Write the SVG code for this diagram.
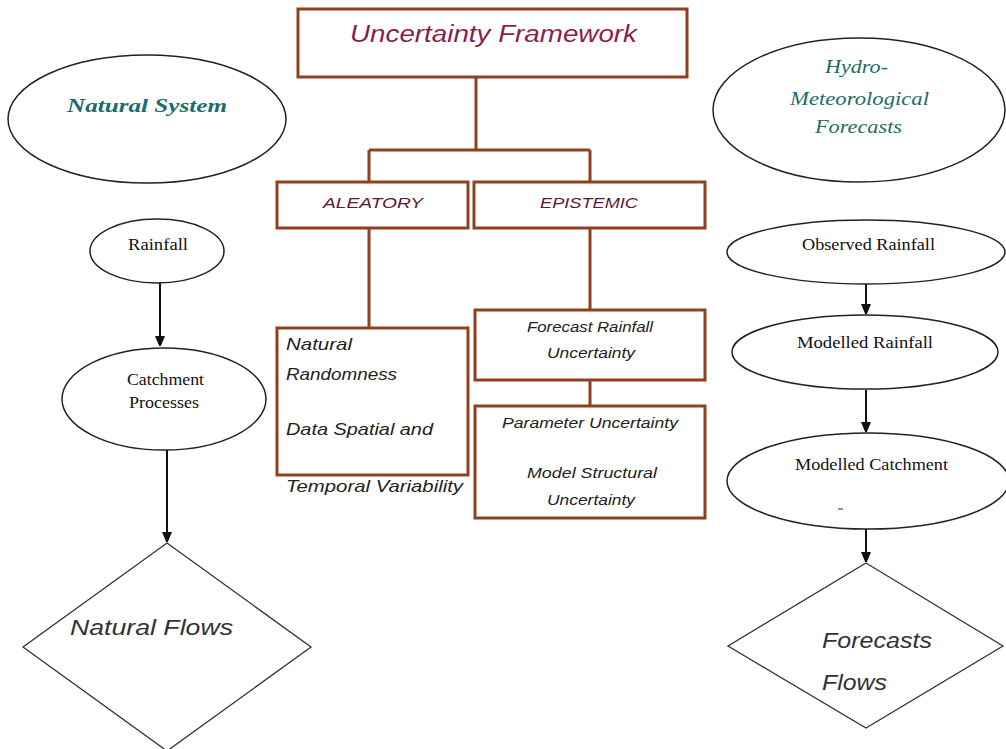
<svg xmlns="http://www.w3.org/2000/svg" width="1006" height="749" viewBox="0 0 1006 749">
<defs>
<style>
.box{fill:#fff;stroke:#8e4020;stroke-width:3}
.bl{fill:none;stroke:#8e4020;stroke-width:3}
.el{fill:#fff;stroke:#222;stroke-width:1.5}
.dm{fill:#fff;stroke:#333;stroke-width:1.3}
.ar{fill:none;stroke:#111;stroke-width:2}
.sans{font-family:"Liberation Sans","DejaVu Sans",sans-serif;font-style:italic}
.ser{font-family:"Liberation Serif","DejaVu Serif",serif;fill:#111}
.teal{font-family:"Liberation Serif","DejaVu Serif",serif;font-style:italic;fill:#1d6b6b}
</style>
<marker id="ah" viewBox="0 0 10 12" refX="10" refY="5" markerWidth="10" markerHeight="12" orient="auto" markerUnits="userSpaceOnUse">
<path d="M0,0 L12,5 L0,10 z" fill="#111"/>
</marker>
</defs>
<rect width="1006" height="749" fill="#fff"/>
<g id="connectors">
<path class="bl" d="M476,77 V150 M369,150 H590 M369,150 V182 M590,150 V182 M369,228 V328 M590,228 V310 M590,380 V406"/>
<path class="ar" d="M160,283 V346" marker-end="url(#ah)"/>
<path class="ar" d="M167,450 V542" marker-end="url(#ah)"/>
<path class="ar" d="M866,283 V314" marker-end="url(#ah)"/>
<path class="ar" d="M866,390 V432" marker-end="url(#ah)"/>
<path class="ar" d="M866,528 V562" marker-end="url(#ah)"/>
</g>
<g id="uncertainty-framework">
<rect class="box" x="298" y="9" width="389" height="68"/>
<text class="sans" x="350" y="42" font-size="23" fill="#8a1f4c" textLength="287" lengthAdjust="spacingAndGlyphs">Uncertainty Framework</text>
</g>
<g id="aleatory">
<rect class="box" x="277" y="182" width="191" height="46"/>
<text class="sans" x="323" y="208" font-size="15" fill="#5a1838" textLength="100" lengthAdjust="spacingAndGlyphs">ALEATORY</text>
</g>
<g id="epistemic">
<rect class="box" x="474" y="182" width="231" height="46"/>
<text class="sans" x="540" y="208" font-size="15" fill="#5a1838" textLength="98" lengthAdjust="spacingAndGlyphs">EPISTEMIC</text>
</g>
<g id="aleatory-items">
<rect class="box" x="277" y="328" width="191" height="147"/>
<g class="sans" font-size="16.5" fill="#222">
<text x="286" y="350" textLength="66" lengthAdjust="spacingAndGlyphs">Natural</text>
<text x="286" y="380" textLength="111" lengthAdjust="spacingAndGlyphs">Randomness</text>
<text x="286" y="435" textLength="147" lengthAdjust="spacingAndGlyphs">Data Spatial and</text>
<text x="286" y="492" textLength="177" lengthAdjust="spacingAndGlyphs">Temporal Variability</text>
</g>
</g>
<g id="forecast-rainfall-uncertainty">
<rect class="box" x="475" y="310" width="230" height="70"/>
<g class="sans" font-size="14" fill="#222">
<text x="527" y="332" textLength="126" lengthAdjust="spacingAndGlyphs">Forecast Rainfall</text>
<text x="547" y="358" textLength="88" lengthAdjust="spacingAndGlyphs">Uncertainty</text>
</g>
</g>
<g id="parameter-model-uncertainty">
<rect class="box" x="475" y="406" width="230" height="112"/>
<g class="sans" font-size="14" fill="#222">
<text x="502" y="428" textLength="176" lengthAdjust="spacingAndGlyphs">Parameter Uncertainty</text>
<text x="527" y="478" textLength="130" lengthAdjust="spacingAndGlyphs">Model Structural</text>
<text x="547" y="505" textLength="88" lengthAdjust="spacingAndGlyphs">Uncertainty</text>
</g>
</g>
<g id="natural-system">
<ellipse class="el" cx="147" cy="119" rx="139" ry="64"/>
<text class="teal" x="67" y="112" font-size="19" font-weight="bold" textLength="160" lengthAdjust="spacingAndGlyphs">Natural System</text>
</g>
<g id="hydro-met-forecasts">
<ellipse class="el" cx="859" cy="110" rx="146" ry="72"/>
<g class="teal" font-size="19">
<text x="825" y="73" textLength="63" lengthAdjust="spacingAndGlyphs">Hydro-</text>
<text x="790" y="105" textLength="139" lengthAdjust="spacingAndGlyphs">Meteorological</text>
<text x="815" y="133" textLength="87" lengthAdjust="spacingAndGlyphs">Forecasts</text>
</g>
</g>
<g id="rainfall">
<ellipse class="el" cx="157" cy="251" rx="67" ry="32"/>
<text class="ser" x="128" y="250" font-size="16" textLength="60" lengthAdjust="spacingAndGlyphs">Rainfall</text>
</g>
<g id="catchment-processes">
<ellipse class="el" cx="164" cy="399" rx="102" ry="51"/>
<g class="ser" font-size="16">
<text x="127" y="385" textLength="77" lengthAdjust="spacingAndGlyphs">Catchment</text>
<text x="129" y="408" textLength="70" lengthAdjust="spacingAndGlyphs">Processes</text>
</g>
</g>
<g id="natural-flows">
<polygon class="dm" points="167,543 311,647 167,751 23,647"/>
<text class="sans" x="70" y="635" font-size="22" fill="#333" textLength="163" lengthAdjust="spacingAndGlyphs">Natural Flows</text>
</g>
<g id="observed-rainfall">
<ellipse class="el" cx="866" cy="252" rx="139" ry="32"/>
<text class="ser" x="802" y="250" font-size="16" textLength="133" lengthAdjust="spacingAndGlyphs">Observed Rainfall</text>
</g>
<g id="modelled-rainfall">
<ellipse class="el" cx="865" cy="352" rx="133" ry="37"/>
<text class="ser" x="797" y="348" font-size="16" textLength="136" lengthAdjust="spacingAndGlyphs">Modelled Rainfall</text>
</g>
<g id="modelled-catchment">
<ellipse class="el" cx="868" cy="481" rx="141" ry="48"/>
<text class="ser" x="795" y="470" font-size="16" textLength="153" lengthAdjust="spacingAndGlyphs">Modelled Catchment</text>
<path d="M838,509 H843" stroke="#222" stroke-width="1"/>
</g>
<g id="forecasts-flows">
<polygon class="dm" points="866,563 1003,646 866,728 728,646"/>
<g class="sans" font-size="22" fill="#333">
<text x="822" y="648" textLength="110" lengthAdjust="spacingAndGlyphs">Forecasts</text>
<text x="822" y="690" textLength="65" lengthAdjust="spacingAndGlyphs">Flows</text>
</g>
</g>
</svg>
